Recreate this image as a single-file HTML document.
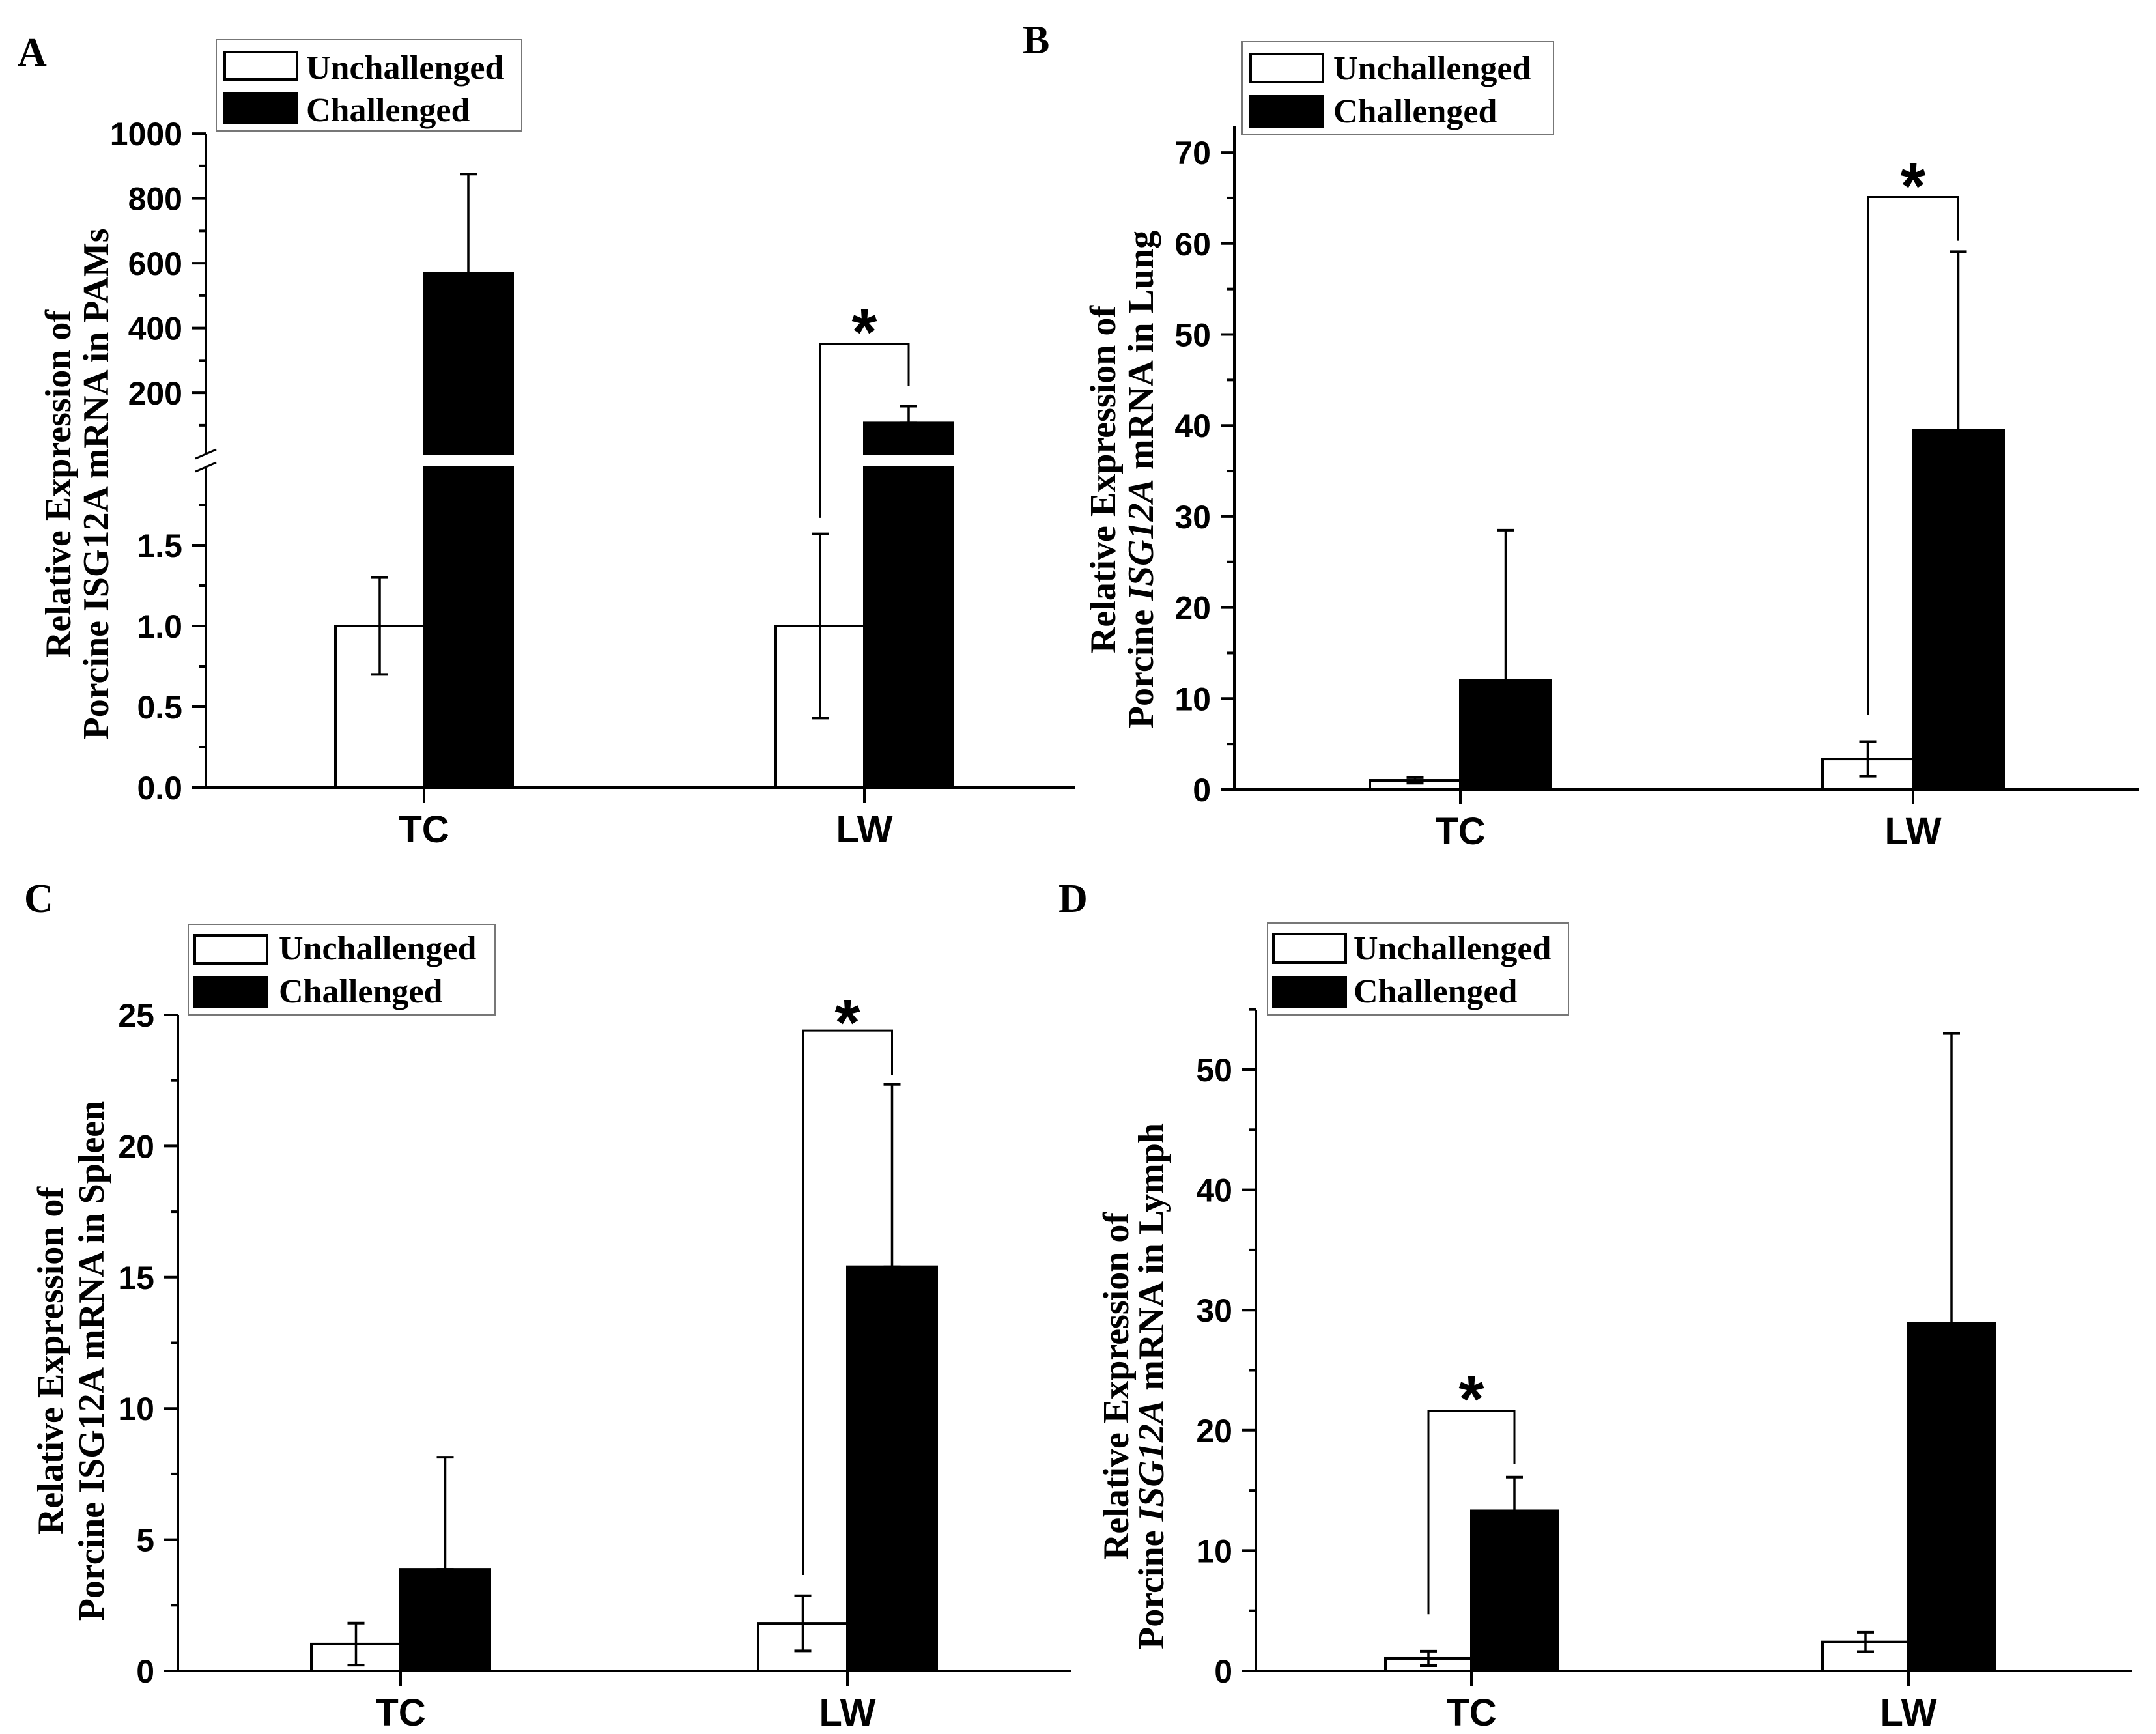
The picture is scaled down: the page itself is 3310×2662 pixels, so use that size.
<!DOCTYPE html>
<html><head><meta charset="utf-8"><title>ISG12A expression</title>
<style>
html,body{margin:0;padding:0;background:#fff;}
svg{display:block;}
.tl{font-family:"Liberation Sans",Arial,sans-serif;font-weight:bold;font-size:50px;fill:#000;}
.cl{font-family:"Liberation Sans",Arial,sans-serif;font-weight:bold;font-size:58px;fill:#000;}
.tt{font-family:"Liberation Serif","Times New Roman",serif;font-weight:bold;font-size:56px;fill:#000;}
.lg{font-family:"Liberation Serif","Times New Roman",serif;font-weight:bold;font-size:52px;fill:#000;}
.pl{font-family:"Liberation Serif","Times New Roman",serif;font-weight:bold;font-size:62px;fill:#000;}
.st{font-family:"Liberation Sans",Arial,sans-serif;font-weight:bold;font-size:100px;fill:#000;}
</style></head>
<body>
<svg id="fig" xmlns="http://www.w3.org/2000/svg" width="3310" height="2662" viewBox="0 0 3310 2662">
<rect x="0" y="0" width="3310" height="2662" fill="#fff"/>
</svg>
<script>
const categories = ["TC", "LW"];
// Panel A (PAMs), broken axis
const aUnch = [1.0, 1.0];
const aUnchErr = [0.30, 0.57];
const aChal = [570, 107];
const aChalErr = [305, 52];
const aUpperTicks = [200, 400, 600, 800, 1000];
const aUpperTickLabels = ["200", "400", "600", "800", "1000"];
const aLowerTicks = [0, 0.5, 1.0, 1.5];
const aLowerTickLabels = ["0.0", "0.5", "1.0", "1.5"];
const aBracket = [1.67, 351, 222];
const aStar = 435;
// Panel B (Lung)
const bUnch = [1.0, 3.36];
const bUnchErr = [0.3, 1.9];
const bChal = [12.0, 39.5];
const bChalErr = [16.5, 19.6];
const bTicks = [0, 10, 20, 30, 40, 50, 60, 70];
const bTickLabels = ["0", "10", "20", "30", "40", "50", "60", "70"];
const bBracket = [8.2, 65.1, 60.3];
const bStar = 68;
// Panel C (Spleen)
const cUnch = [1.02, 1.81];
const cUnchErr = [0.8, 1.05];
const cChal = [3.87, 15.4];
const cChalErr = [4.27, 6.95];
const cTicks = [0, 5, 10, 15, 20, 25];
const cTickLabels = ["0", "5", "10", "15", "20", "25"];
const cBracket = [3.65, 24.4, 22.7];
const cStar = 25.3;
// Panel D (Lymph)
const dUnch = [1.03, 2.4];
const dUnchErr = [0.6, 0.8];
const dChal = [13.3, 28.9];
const dChalErr = [2.8, 24.1];
const dTicks = [0, 10, 20, 30, 40, 50];
const dTickLabels = ["0", "10", "20", "30", "40", "50"];
const dBracket = [4.7, 21.6, 17.2];
const dStar = 23.9;

const NS = "http://www.w3.org/2000/svg";
const svg = document.getElementById("fig");
function mk(tag, attrs, parent) {
  const e = document.createElementNS(NS, tag);
  for (const k in attrs) e.setAttribute(k, attrs[k]);
  (parent || svg).appendChild(e);
  return e;
}
function line(x1, y1, x2, y2, w, p) {
  return mk("line", {x1: x1, y1: y1, x2: x2, y2: y2, stroke: "#000", "stroke-width": w || 4}, p);
}
function txt(x, y, s, cls, anchor, p) {
  const t = mk("text", {x: x, y: y, class: cls, "text-anchor": anchor || "start"}, p);
  t.textContent = s;
  return t;
}

function legend(g, box, sw1, sw2, tx, b1, b2) {
  const lg = mk("g", {}, g);
  
  
  mk("rect", {x: box[0], y: box[1], width: box[2] - box[0], height: box[3] - box[1], fill: "#fff", stroke: "#777", "stroke-width": 2}, lg);
  const r1 = mk("rect", {x: sw1[0], y: sw1[1], width: sw1[2] - sw1[0], height: sw1[3] - sw1[1], fill: "#fff", stroke: "#000", "stroke-width": 4}, lg);
  
  
  const r2 = mk("rect", {x: sw2[0], y: sw2[1], width: sw2[2] - sw2[0], height: sw2[3] - sw2[1], fill: "#000", stroke: "#000", "stroke-width": 4}, lg);
  
  
  const t1 = txt(tx, b1, "Unchallenged", "lg", "start", lg);
  
  
  const t2 = txt(tx, b2, "Challenged", "lg", "start", lg);
  
  
}

function yTitle(g, x1, x2, yc, line1, pre, ital, post) {
  const tg = mk("g", {}, g);
  
  
  const t1 = mk("text", {class: "tt", "text-anchor": "middle", "dominant-baseline": "central", transform: "translate(" + x1 + "," + yc + ") rotate(-90)"}, tg);
  t1.textContent = line1;
  const t2 = mk("text", {class: "tt", "text-anchor": "middle", "dominant-baseline": "central", transform: "translate(" + x2 + "," + yc + ") rotate(-90)"}, tg);
  const s1 = mk("tspan", {}, t2); s1.textContent = pre;
  const s2 = mk("tspan", {"font-style": ital ? "italic" : "normal"}, t2); s2.textContent = ital || "";
  const s3 = mk("tspan", {}, t2); s3.textContent = post;
}

function errBar(g, x, yTop, yBot, name) {
  const e = mk("g", {}, g);
  
  
  line(x, yTop, x, yBot, 3.5, e);
  line(x - 13, yTop, x + 13, yTop, 4, e);
  line(x - 13, yBot, x + 13, yBot, 4, e);
}

function bracket(g, xl, xr, yl, yt, yr, ys) {
  const b = mk("g", {}, g);
  
  
  mk("polyline", {points: xl + "," + yl + " " + xl + "," + yt + " " + xr + "," + yt + " " + xr + "," + yr, fill: "none", stroke: "#000", "stroke-width": 3}, b);
  const s = txt((xl + xr) / 2, ys + 58, "*", "st", "middle", b);
  
  
}

function panel(p) {
  const g = mk("g", {});
  
  
  const y = v => p.zero - v * p.ppu;
  const pl = txt(p.letter[1], p.letter[2], p.letter[0], "pl", "start", g);
  
  
  for (let i = 0; i < categories.length; i++) {
    const cx = p.centers[i];
    const u = mk("rect", {x: cx - p.bw, y: y(p.unch[i]), width: p.bw, height: p.zero - y(p.unch[i]), fill: "#fff", stroke: "#000", "stroke-width": 4}, g);
    
    
    const c = mk("rect", {x: cx, y: y(p.chal[i]), width: p.bw, height: p.zero - y(p.chal[i]), fill: "#000", stroke: "#000", "stroke-width": 4}, g);
    
    
    errBar(g, cx - p.bw / 2, y(p.unch[i] + p.unchErr[i]), y(Math.max(0, p.unch[i] - p.unchErr[i])), 'error-bar-unchallenged-' + categories[i].toLowerCase());
    errBar(g, cx + p.bw / 2, y(p.chal[i] + p.chalErr[i]), y(p.chal[i]), 'error-bar-challenged-' + categories[i].toLowerCase());
  }
  const ya = line(p.ax, p.zero + 2, p.ax, p.top, 4, g);
  
  
  const xa = line(p.ax - 21, p.zero, p.xEnd, p.zero, 4, g);
  
  
  for (let i = 0; i < p.ticks.length; i++) {
    line(p.ax - 21, y(p.ticks[i]), p.ax, y(p.ticks[i]), 4, g);
    const tl = txt(p.ax - 36, y(p.ticks[i]) + 18, p.tickLabels[i], "tl", "end", g);
    
    
    const mv = p.ticks[i] + p.minor;
    if (y(mv) >= p.top - 1) line(p.ax - 11, y(mv), p.ax, y(mv), 4, g);
  }
  for (let i = 0; i < categories.length; i++) {
    line(p.centers[i], p.zero, p.centers[i], p.zero + 23, 4, g);
    const cl = txt(p.centers[i], p.zero + 84, categories[i], "cl", "middle", g);
    
    
  }
  const bi = p.bIdx;
  bracket(g, p.centers[bi] - p.bw / 2, p.centers[bi] + p.bw / 2, y(p.bracket[0]), y(p.bracket[1]), y(p.bracket[2]), y(p.star));
  yTitle(g, p.title[0], p.title[1], p.title[2], "Relative Expression of", "Porcine ", p.title[3], p.title[4]);
  legend(g, p.leg.box, p.leg.s1, p.leg.s2, p.leg.tx, p.leg.b1, p.leg.b2);
}

(function () {
  const g = mk("g", {});
  
  
  const ax = 316, zero = 1209, lowPpu = 248, upZero = 702.6, upPpu = 0.4975;
  const lowTop = 718, upBot = 697, top = 205, xEnd = 1650, bw = 136;
  const centers = [651, 1327];
  const yl = v => zero - v * lowPpu;
  const yu = v => upZero - v * upPpu;
  const pl = txt(27, 101, "A", "pl", "start", g);
  
  
  for (let i = 0; i < categories.length; i++) {
    const cx = centers[i];
    const u = mk("rect", {x: cx - bw, y: yl(aUnch[i]), width: bw, height: zero - yl(aUnch[i]), fill: "#fff", stroke: "#000", "stroke-width": 4}, g);
    
    
    const c1 = mk("rect", {x: cx, y: lowTop, width: bw, height: zero - lowTop, fill: "#000", stroke: "#000", "stroke-width": 4}, g);
    
    
    const c2 = mk("rect", {x: cx, y: yu(aChal[i]), width: bw, height: upBot - yu(aChal[i]), fill: "#000", stroke: "#000", "stroke-width": 4}, g);
    
    
    errBar(g, cx - bw / 2, yl(aUnch[i] + aUnchErr[i]), yl(aUnch[i] - aUnchErr[i]), 'error-bar-unchallenged-' + categories[i].toLowerCase());
    errBar(g, cx + bw / 2, yu(aChal[i] + aChalErr[i]), yu(aChal[i]), 'error-bar-challenged-' + categories[i].toLowerCase());
  }
  const ya1 = line(ax, zero + 2, ax, lowTop, 4, g);
  
  
  const ya2 = line(ax, upBot, ax, top, 4, g);
  
  
  const br = mk("g", {}, g);
  
  
  line(ax - 16, 704, ax + 16, 690, 3, br);
  line(ax - 16, 724, ax + 16, 710, 3, br);
  const xa = line(ax - 21, zero, xEnd, zero, 4, g);
  
  
  for (let i = 0; i < aUpperTicks.length; i++) {
    const v = aUpperTicks[i];
    line(ax - 21, yu(v), ax, yu(v), 4, g);
    line(ax - 11, yu(v - 100), ax, yu(v - 100), 4, g);
    const t = txt(ax - 36, yu(v) + 18, aUpperTickLabels[i], "tl", "end", g);
    
    
  }
  for (let i = 0; i < aLowerTicks.length; i++) {
    const v = aLowerTicks[i];
    line(ax - 21, yl(v), ax, yl(v), 4, g);
    line(ax - 11, yl(v + 0.25), ax, yl(v + 0.25), 4, g);
    const t = txt(ax - 36, yl(v) + 18, aLowerTickLabels[i], "tl", "end", g);
    
    
  }
  for (let i = 0; i < categories.length; i++) {
    line(centers[i], zero, centers[i], zero + 23, 4, g);
    const cl = txt(centers[i], zero + 84, categories[i], "cl", "middle", g);
    
    
  }
  bracket(g, centers[1] - bw / 2, centers[1] + bw / 2, yl(aBracket[0]), yu(aBracket[1]), yu(aBracket[2]), yu(aStar));
  yTitle(g, 90, 148, 743, "Relative Expression of", "Porcine ISG12A mRNA in PAMs", "", "");
  legend(g, [332, 61, 801, 201], [345, 80, 456, 122], [345, 144, 456, 188], 470, 121, 186);
})();

panel({name: "panel-b", letter: ["B", 1570, 82], ax: 1895, zero: 1212, ppu: 13.97, top: 193, xEnd: 3284, bw: 139,
  centers: [2242, 2937], unch: bUnch, unchErr: bUnchErr, chal: bChal, chalErr: bChalErr,
  ticks: bTicks, tickLabels: bTickLabels, minor: 5, bIdx: 1, bracket: bBracket, star: bStar,
  title: [1694, 1752, 736, "ISG12A", " mRNA in Lung"],
  leg: {box: [1907, 64, 2385, 206], s1: [1920, 83, 2031, 126], s2: [1920, 148, 2031, 195], tx: 2047, b1: 122, b2: 188}});

panel({name: "panel-c", letter: ["C", 37, 1400], ax: 273, zero: 2565, ppu: 40.28, top: 1558, xEnd: 1645, bw: 137,
  centers: [615, 1301], unch: cUnch, unchErr: cUnchErr, chal: cChal, chalErr: cChalErr,
  ticks: cTicks, tickLabels: cTickLabels, minor: 2.5, bIdx: 1, bracket: cBracket, star: cStar,
  title: [78, 141, 2089, "", "ISG12A mRNA in Spleen"],
  leg: {box: [289, 1419, 760, 1558], s1: [299, 1436, 410, 1479], s2: [299, 1501, 410, 1545], tx: 428, b1: 1473, b2: 1539}});

panel({name: "panel-d", letter: ["D", 1625, 1400], ax: 1928, zero: 2565, ppu: 18.46, top: 1550, xEnd: 3273, bw: 132,
  centers: [2259, 2930], unch: dUnch, unchErr: dUnchErr, chal: dChal, chalErr: dChalErr,
  ticks: dTicks, tickLabels: dTickLabels, minor: 5, bIdx: 0, bracket: dBracket, star: dStar,
  title: [1714, 1768, 2128, "ISG12A", " mRNA in Lymph"],
  leg: {box: [1946, 1417, 2408, 1558], s1: [1955, 1434, 2066, 1478], s2: [1955, 1501, 2066, 1545], tx: 2078, b1: 1473, b2: 1539}});
</script>
</body></html>
